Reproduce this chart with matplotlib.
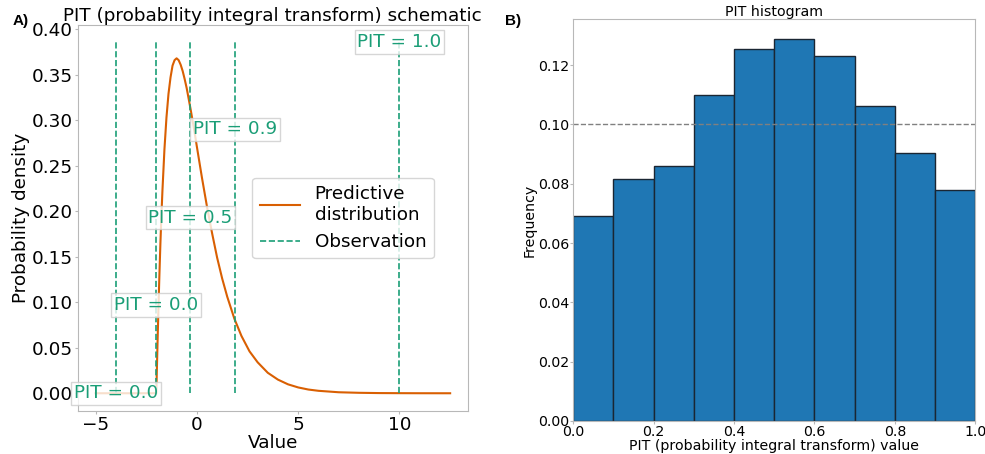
import matplotlib
matplotlib.use("Agg")
import matplotlib.pyplot as plt

# predictive distribution
value_x = [-5.0, -2.0, -1.97, -1.94, -1.9, -1.85, -1.8, -1.75, -1.7, -1.6, -1.5, -1.4, -1.3,
           -1.2, -1.1, -1.0, -0.9, -0.8, -0.7, -0.6, -0.5, -0.4, -0.3, -0.2, -0.1, 0.0,
           0.25, 0.5, 0.75, 1.0, 1.25, 1.5, 1.85, 2.2, 2.6, 3.0, 3.5, 4.0, 4.5, 5.0, 5.5,
           6.0, 7.0, 8.0, 9.0, 10.0, 11.0, 12.5]
density = [0.0, 0.0, 0.029, 0.056, 0.090, 0.129, 0.164, 0.195, 0.222, 0.268, 0.303, 0.329,
           0.347, 0.360, 0.366, 0.368, 0.366, 0.361, 0.354, 0.345, 0.335, 0.323, 0.311,
           0.298, 0.285, 0.271, 0.237, 0.205, 0.176, 0.149, 0.126, 0.106, 0.082, 0.063,
           0.046, 0.034, 0.0225, 0.015, 0.0098, 0.0064, 0.0041, 0.0027, 0.0011, 0.0005,
           0.0002, 0.0001, 0.00003, 0.0]

observations = [-4.0, -2.0, -0.32, 1.89, 10.0]
pit_labels = ["PIT = 0.0", "PIT = 0.0", "PIT = 0.5", "PIT = 0.9", "PIT = 1.0"]
label_y = [0.0, 0.097, 0.193, 0.29, 0.386]
obs_top = 0.386

# PIT histogram
bin_left = [0.0, 0.1, 0.2, 0.3, 0.4, 0.5, 0.6, 0.7, 0.8, 0.9]
frequency = [0.069, 0.0816, 0.0861, 0.1098, 0.1255, 0.1288, 0.123, 0.1062, 0.0905, 0.078]

green = "#1b9e77"
orange = "#d95f02"
spine_c = "#b8b8b8"

fig = plt.figure(figsize=(9.85, 4.54), dpi=100)
ax1 = fig.add_axes([0.079, 0.0947, 0.396, 0.850])
ax2 = fig.add_axes([0.582, 0.0727, 0.408, 0.885])

fs = 13.2
ax1.plot(value_x, density, color=orange, lw=1.5, label="Predictive\ndistribution")
ax1.vlines(observations, 0, obs_top, colors=green, linestyles="--", lw=1.2, label="Observation")
for xo, yl, lab in zip(observations, label_y, pit_labels):
    ax1.text(xo, yl, lab, color=green, fontsize=fs, ha="center", va="center",
             bbox=dict(facecolor="white", edgecolor="#cccccc", alpha=0.8, pad=2))
ax1.set_xlim(-5.875, 13.375)
ax1.set_ylim(-0.0195, 0.4045)
ax1.set_xticks([-5, 0, 5, 10])
ax1.set_yticks([0.0, 0.05, 0.1, 0.15, 0.2, 0.25, 0.3, 0.35, 0.4])
ax1.set_yticklabels(["0.00", "0.05", "0.10", "0.15", "0.20", "0.25", "0.30", "0.35", "0.40"])
ax1.tick_params(labelsize=fs, color=spine_c, length=2, pad=1.5)
ax1.set_xlabel("Value", fontsize=fs, labelpad=0)
ax1.set_ylabel("Probability density", fontsize=fs, labelpad=1)
ax1.set_title("PIT (probability integral transform) schematic", fontsize=fs, pad=1)
ax1.legend(loc="center", bbox_to_anchor=(0.68, 0.5), fontsize=fs, handlelength=2.2)

fs2 = 10.2
ax2.bar(bin_left, frequency, width=0.1, align="edge", color="#1f77b4", edgecolor="#1a2633", lw=1)
ax2.axhline(0.1, color="gray", ls="--", lw=1)
ax2.set_xlim(0, 1)
ax2.set_ylim(0, 0.1355)
ax2.set_xticks([0.0, 0.2, 0.4, 0.6, 0.8, 1.0])
ax2.set_yticks([0.0, 0.02, 0.04, 0.06, 0.08, 0.1, 0.12])
ax2.set_yticklabels(["0.00", "0.02", "0.04", "0.06", "0.08", "0.10", "0.12"])
ax2.tick_params(labelsize=fs2, color=spine_c, length=2, pad=1)
ax2.set_xlabel("PIT (probability integral transform) value", fontsize=fs2, labelpad=0)
ax2.set_ylabel("Frequency", fontsize=fs2, labelpad=1)
ax2.set_title("PIT histogram", fontsize=fs2, pad=2)

for a in (ax1, ax2):
    for s in a.spines.values():
        s.set_color(spine_c)

fig.text(0.013, 0.954, "A)", fontsize=11, fontweight="bold", family="Liberation Sans", va="center")
fig.text(0.513, 0.954, "B)", fontsize=11, fontweight="bold", family="Liberation Sans", va="center")

fig.savefig("out.png", dpi=100)
